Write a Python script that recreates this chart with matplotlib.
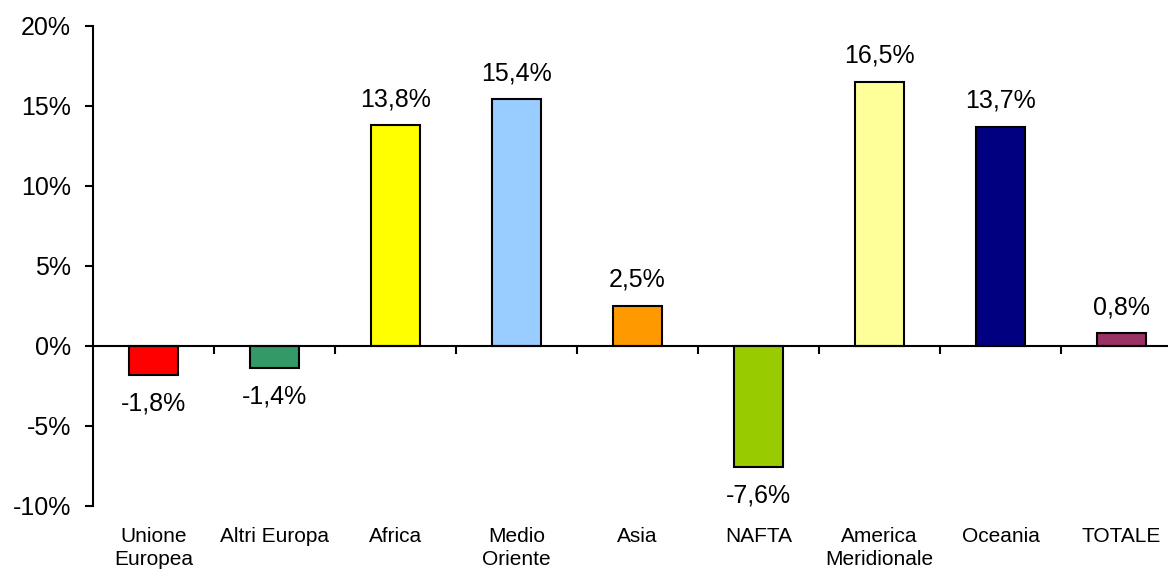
import matplotlib
matplotlib.use("Agg")
import matplotlib.pyplot as plt

categories = ["Unione\nEuropea", "Altri Europa", "Africa", "Medio\nOriente", "Asia",
              "NAFTA", "America\nMeridionale", "Oceania", "TOTALE"]
values = [-1.8, -1.4, 13.8, 15.4, 2.5, -7.6, 16.5, 13.7, 0.8]
colors = ["#FF0000", "#339966", "#FFFF00", "#99CCFF", "#FF9900",
          "#99CC00", "#FFFF99", "#000080", "#993366"]
yticks = [-10, -5, 0, 5, 10, 15, 20]
ytick_labels = ["-10%", "-5%", "0%", "5%", "10%", "15%", "20%"]

plt.rcParams["font.family"] = ["Liberation Sans", "DejaVu Sans"]

fig = plt.figure(figsize=(11.68, 5.70), dpi=100)
ax = fig.add_axes([93 / 1168, 1 - 505.7 / 570, 1089 / 1168, (505.7 - 25.7) / 570])

x = list(range(len(categories)))
ax.bar(x, values, width=0.4, color=colors, edgecolor="black", linewidth=1.5, zorder=3)

ax.set_xlim(-0.5, len(categories) - 0.5)
ax.set_ylim(-10, 20)
ax.set_yticks(yticks)
ax.set_yticklabels(ytick_labels, fontsize=18)
ax.tick_params(axis="y", length=6, width=1.5, pad=10, direction="out")

for s in ["top", "right"]:
    ax.spines[s].set_visible(False)
ax.spines["left"].set_linewidth(1.5)
ax.spines["bottom"].set_position(("data", 0))
ax.spines["bottom"].set_linewidth(1.5)
ax.spines["bottom"].set_zorder(4)

ax.set_xticks([i + 0.5 for i in range(len(categories))])
ax.set_xticklabels([])
ax.tick_params(axis="x", length=6, width=1.5, direction="out")

for i, (c, v) in enumerate(zip(categories, values)):
    ax.annotate(c, xy=(i, 0), xycoords=("data", "axes fraction"),
                xytext=(0, -15), textcoords="offset points",
                ha="center", va="top", fontsize=15, linespacing=1.3,
                multialignment="center")
    lbl = f"{v:.1f}".replace(".", ",") + "%"
    if v >= 0:
        ax.annotate(lbl, xy=(i, v), xytext=(0, 10), textcoords="offset points",
                    ha="center", va="bottom", fontsize=18)
    else:
        ax.annotate(lbl, xy=(i, v), xytext=(0, -12), textcoords="offset points",
                    ha="center", va="top", fontsize=18)

fig.savefig("out.png", dpi=100)
